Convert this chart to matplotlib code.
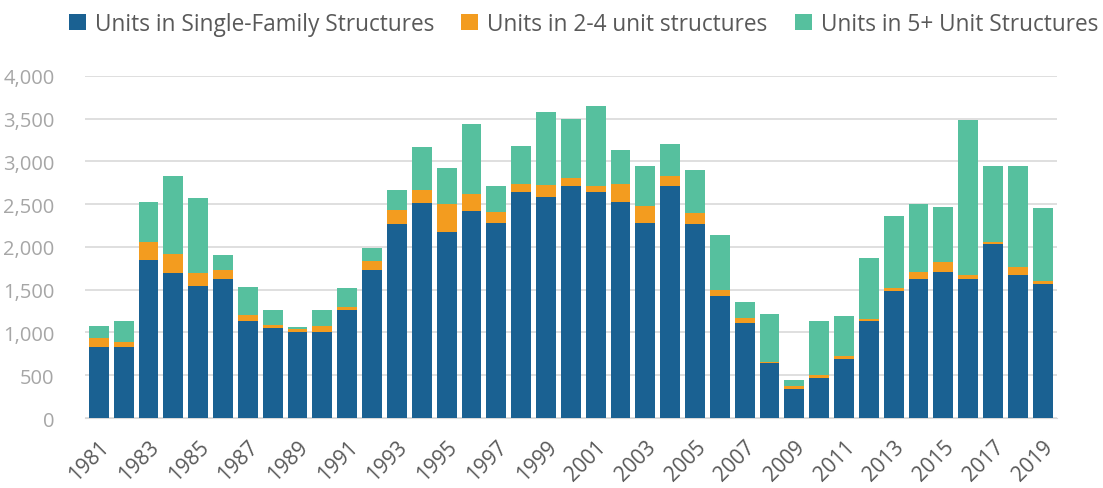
import numpy as np
import matplotlib.pyplot as plt

# Building permits by structure type, 1981-2019
years = list(range(1981, 2020))
single_family = [830, 830, 1850, 1700, 1540, 1620, 1130, 1050, 1000, 1000,
                 1260, 1730, 2270, 2510, 2180, 2420, 2280, 2640, 2580, 2710,
                 2640, 2520, 2280, 2710, 2270, 1430, 1110, 640, 340, 470,
                 690, 1130, 1480, 1620, 1710, 1620, 2030, 1670, 1570]
two_to_four = [100, 60, 210, 220, 160, 110, 80, 40, 40, 80,
               40, 110, 160, 150, 320, 200, 130, 100, 140, 90,
               70, 220, 200, 120, 130, 70, 60, 20, 30, 30,
               40, 30, 40, 90, 110, 50, 30, 90, 30]
five_plus = [150, 240, 470, 910, 870, 180, 320, 170, 30, 180,
             220, 150, 230, 510, 420, 820, 300, 440, 860, 700,
             940, 390, 470, 370, 500, 640, 190, 560, 70, 630,
             460, 710, 840, 790, 650, 1810, 880, 1180, 850]
labels = ['Units in Single-Family Structures', 'Units in 2-4 unit structures',
          'Units in 5+ Unit Structures']
colors = ['#1a6192', '#f39c1f', '#56c09e']

plt.rcParams['font.family'] = ['Open Sans', 'DejaVu Sans']

fig = plt.figure(figsize=(11.03, 4.89), dpi=100)
ax = fig.add_axes([0.077, 0.143, 0.881, 0.700])

x = np.arange(len(years))
sf = np.array(single_family)
tf = np.array(two_to_four)
fp = np.array(five_plus)
ax.bar(x, sf, width=0.8, color=colors[0], label=labels[0], zorder=3)
ax.bar(x, tf, width=0.8, bottom=sf, color=colors[1], label=labels[1], zorder=3)
ax.bar(x, fp, width=0.8, bottom=sf + tf, color=colors[2], label=labels[2], zorder=3)

ax.set_ylim(0, 4000)
ax.set_xlim(-0.56, len(years) - 0.44)
ax.set_yticks(range(0, 4001, 500))
ax.set_yticklabels([f'{v:,}' for v in range(0, 4001, 500)])
ax.yaxis.grid(True, color='#d9d9d9', linewidth=1.2, zorder=0)
ax.tick_params(axis='y', length=0, pad=22, labelsize=14.5, labelcolor='#a6a6a6')

ax.set_xticks(x[::2])
ax.set_xticklabels([str(y) for y in years[::2]], rotation=45, ha='right',
                   rotation_mode='anchor')
ax.tick_params(axis='x', length=0, pad=13, labelsize=15, labelcolor='#595959')

for s in ['top', 'right', 'left']:
    ax.spines[s].set_visible(False)
ax.spines['bottom'].set_color('#d9d9d9')

fig.legend(loc='upper center', bbox_to_anchor=(0.529, 1.015), ncol=3, frameon=False,
           fontsize=16.3, labelcolor='#595959', handlelength=0.75, handleheight=0.75,
           handletextpad=0.4, columnspacing=1.2)

fig.savefig('out.png', dpi=100)
